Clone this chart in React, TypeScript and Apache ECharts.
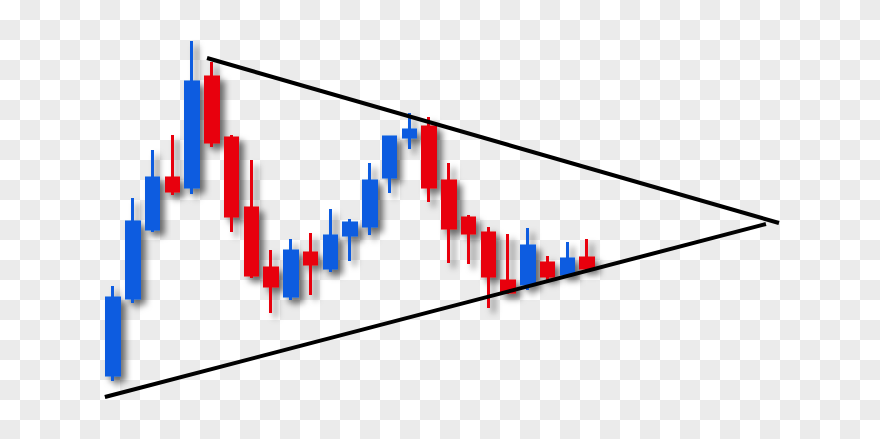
import React, { useEffect, useRef } from "react";
import * as echarts from "echarts";

// Candles (price units, higher = up)
const opens = [64, 141, 210, 261, 252, 362, 301, 231, 171, 143, 186, 171, 204, 213, 262, 302, 312, 258, 221, 206, 158, 155, 176, 165, 181];
const closes = [141, 217, 261, 248, 357, 297, 223, 164, 153, 188, 175, 203, 216, 258, 302, 309, 252, 211, 206, 163, 147, 193, 163, 180, 171];
const lows = [58, 136, 207, 244, 245, 292, 207, 161, 126, 139, 144, 167, 178, 204, 246, 290, 237, 176, 175, 131, 145, 149, 159, 163, 169];
const highs = [153, 241, 289, 304, 398, 377, 304, 279, 189, 200, 206, 230, 220, 276, 302, 326, 322, 276, 224, 212, 205, 211, 183, 197, 200];

const TOTAL_SLOTS = 35;
const categories = Array.from({ length: TOTAL_SLOTS }, (_, i) => String(i + 1));

// Trend lines: [slot index, price]
const upperLineX = [4.76, 33.72];
const upperLineY = [381, 216];
const lowerLineX = [-0.41, 33.06];
const lowerLineY = [42, 215];

const BLUE = "#0b5ce0";
const RED = "#e80008";

export default function App() {
  const ref = useRef<HTMLDivElement>(null);
  useEffect(() => {
    document.body.style.margin = "0";
    const chart = echarts.init(ref.current!, undefined, { renderer: "svg" });
    const candleData = opens.map((o, i) => [o, closes[i], lows[i], highs[i]]);
    chart.setOption({
      animation: false,
      backgroundColor: "transparent",
      grid: { left: 103.125, right: 85.625, top: 0, bottom: 0 },
      xAxis: [
        { type: "category", data: categories, show: false, boundaryGap: true },
        { type: "value", min: -0.5, max: TOTAL_SLOTS - 0.5, show: false },
      ],
      yAxis: { type: "value", min: 0, max: 439, show: false },
      series: [
        {
          type: "candlestick",
          data: candleData,
          barWidth: 13,
          itemStyle: {
            color: BLUE,
            color0: RED,
            borderColor: BLUE,
            borderColor0: RED,
            borderWidth: 3,
            shadowColor: "rgba(0,0,0,0.55)",
            shadowBlur: 6,
            shadowOffsetX: 5,
            shadowOffsetY: 5,
          },
          z: 2,
        },
        {
          type: "line",
          xAxisIndex: 1,
          data: upperLineX.map((x, i) => [x, upperLineY[i]]),
          symbol: "none",
          lineStyle: { color: "#000", width: 4 },
          z: 5,
        },
        {
          type: "line",
          xAxisIndex: 1,
          data: lowerLineX.map((x, i) => [x, lowerLineY[i]]),
          symbol: "none",
          lineStyle: { color: "#000", width: 4 },
          z: 5,
        },
      ],
    });
    return () => chart.dispose();
  }, []);
  return (
    <div
      ref={ref}
      style={{
        position: "absolute",
        left: 0,
        top: 0,
        width: 880,
        height: 439,
        background:
          "repeating-conic-gradient(#ebebeb 0 25%, #ffffff 0 50%) 0 0 / 40px 40px",
      }}
    />
  );
}
